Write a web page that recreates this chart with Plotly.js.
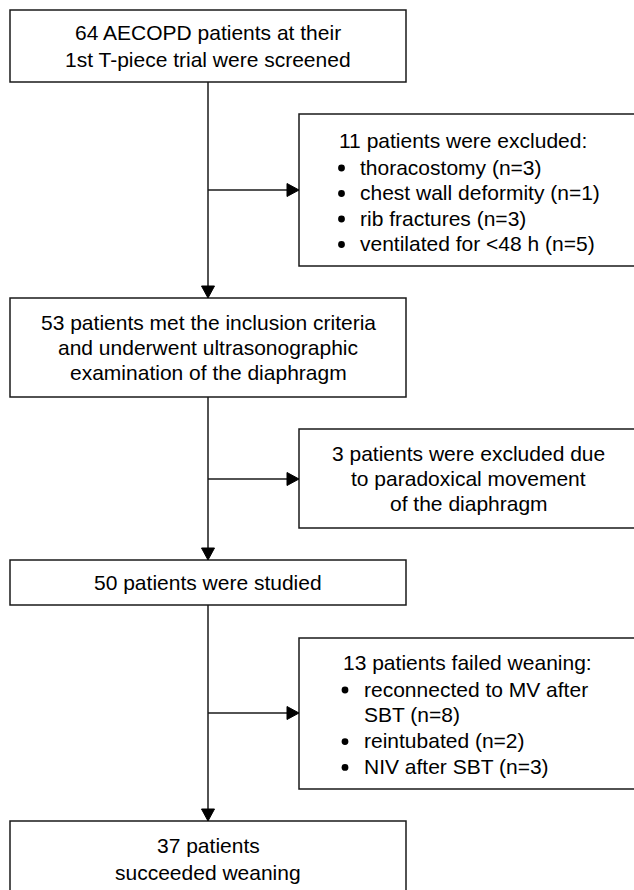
<!DOCTYPE html>
<html>
<head>
<meta charset="utf-8">
<script src="https://cdn.plot.ly/plotly-3.0.1.min.js"></script>
<style>html,body{margin:0;padding:0;background:#fff;}#chart{width:634px;height:890px;}</style>
</head>
<body>
<div id="chart"></div>
<script>
// ---- DATA ----
const mainCounts = [64, 53, 50, 37];
const mainBoxLines = [
  ["64 AECOPD patients at their", "1st T-piece trial were screened"],
  ["53 patients met the inclusion criteria", "and underwent ultrasonographic", "examination of the diaphragm"],
  ["50 patients were studied"],
  ["37 patients", "succeeded weaning"]
];
const excludedCounts = [11, 3, 13];
const sideHeadings = [
  ["11 patients were excluded:"],
  ["3 patients were excluded due", "to paradoxical movement", "of the diaphragm"],
  ["13 patients failed weaning:"]
];
const exclusionReasons = [["thoracostomy"], ["chest wall deformity"], ["rib fractures"], ["ventilated for &lt;48 h"]];
const exclusionCounts = [3, 1, 3, 5];
const failureReasons = [["reconnected to MV after", "SBT"], ["reintubated"], ["NIV after SBT"]];
const failureCounts = [8, 2, 3];

// ---- LAYOUT CONFIG (positions / styles) ----
const W = 634, H = 890;
const FONT = {family: "'Liberation Sans', Arial, Helvetica, sans-serif", size: 21, color: "#000"};
const LINE = {color: "#1a1a1a", width: 1.5};
const cx = 208;
const mainX = [10, 406];
const sideX = [299, 642];
const mainY = [[10, 82], [298, 397], [560, 605], [821, 896]];
const sideY = [[114, 266], [429, 528], [638, 789]];
const arrowY = [190, 479, 713];
const mainSpacing = [27, 25, 25, 27];
const AH = 12, AW = 6.5, BR = 3.4;

const shapes = [];
const annotations = [];

function txt(x, y, t, xanchor) {
  annotations.push({x: x, y: y, xref: "x", yref: "y", text: t, showarrow: false,
    xanchor: xanchor || "center", yanchor: "middle", font: FONT, align: xanchor || "center"});
}
function rect(x0, x1, y0, y1) {
  shapes.push({type: "rect", xref: "x", yref: "y", x0: x0, x1: x1, y0: y0, y1: y1, line: LINE, fillcolor: "rgba(0,0,0,0)"});
}
function seg(x0, y0, x1, y1) {
  shapes.push({type: "line", xref: "x", yref: "y", x0: x0, y0: y0, x1: x1, y1: y1, line: LINE});
}
function tri(path) {
  shapes.push({type: "path", xref: "x", yref: "y", path: path, fillcolor: "#000", line: {color: "#000", width: 1}});
}
function bullet(x, y) {
  shapes.push({type: "circle", xref: "x", yref: "y", x0: x - BR, x1: x + BR, y0: y - BR, y1: y + BR,
    fillcolor: "#000", line: {width: 0}});
}

// main boxes
mainBoxLines.forEach(function (lines, i) {
  const [y0, y1] = mainY[i];
  rect(mainX[0], mainX[1], y0, y1);
  let yc = (i === 3) ? y0 + 37.5 : (y0 + y1) / 2;
  const sp = mainSpacing[i];
  lines.forEach(function (l, j) {
    txt(cx, yc + (j - (lines.length - 1) / 2) * sp, l, "center");
  });
});

// vertical connectors with down arrows
for (let i = 0; i < mainY.length - 1; i++) {
  const yStart = mainY[i][1], yEnd = mainY[i + 1][0];
  seg(cx, yStart, cx, yEnd - AH + 1);
  tri("M " + (cx - AW) + " " + (yEnd - AH) + " L " + (cx + AW) + " " + (yEnd - AH) + " L " + cx + " " + yEnd + " Z");
}

// side boxes with right arrows
sideY.forEach(function (yy, i) {
  rect(sideX[0], sideX[1], yy[0], yy[1]);
  const ay = arrowY[i];
  seg(cx, ay, sideX[0] - AH + 1, ay);
  tri("M " + (sideX[0] - AH) + " " + (ay - AW) + " L " + (sideX[0] - AH) + " " + (ay + AW) + " L " + sideX[0] + " " + ay + " Z");
});

// side box 1: exclusions
(function () {
  const top = sideY[0][0];
  txt(sideX[0] + 38, top + 26, sideHeadings[0][0], "left");
  let y = top + 53;
  exclusionReasons.forEach(function (r, k) {
    const lines = r.slice();
    lines[lines.length - 1] += " (n=" + exclusionCounts[k] + ")";
    bullet(sideX[0] + 42.5, y + 1);
    lines.forEach(function (l) { txt(sideX[0] + 59, y, l, "left"); y += 25.5; });
  });
})();

// side box 2: centered text
(function () {
  const [y0, y1] = sideY[1];
  const yc = (y0 + y1) / 2;
  const lines = sideHeadings[1];
  lines.forEach(function (l, j) {
    txt((sideX[0] + 634) / 2 + 2, yc + (j - (lines.length - 1) / 2) * 25, l, "center");
  });
})();

// side box 3: failures
(function () {
  const top = sideY[2][0];
  txt(sideX[0] + 42, top + 24, sideHeadings[2][0], "left");
  let y = top + 51;
  failureReasons.forEach(function (r, k) {
    const lines = r.slice();
    lines[lines.length - 1] += " (n=" + failureCounts[k] + ")";
    bullet(sideX[0] + 46, y + 1);
    lines.forEach(function (l) { txt(sideX[0] + 63, y, l, "left"); y += 25.8; });
  });
})();

const layout = {
  width: W, height: H,
  margin: {l: 0, r: 0, t: 0, b: 0, pad: 0},
  paper_bgcolor: "#fff", plot_bgcolor: "#fff",
  xaxis: {range: [0, W], visible: false, fixedrange: true},
  yaxis: {range: [H, 0], visible: false, fixedrange: true},
  showlegend: false,
  shapes: shapes,
  annotations: annotations
};

Plotly.newPlot("chart", [{x: [], y: [], type: "scatter", mode: "markers", hoverinfo: "skip"}], layout, {staticPlot: true, displayModeBar: false});
</script>
</body>
</html>
